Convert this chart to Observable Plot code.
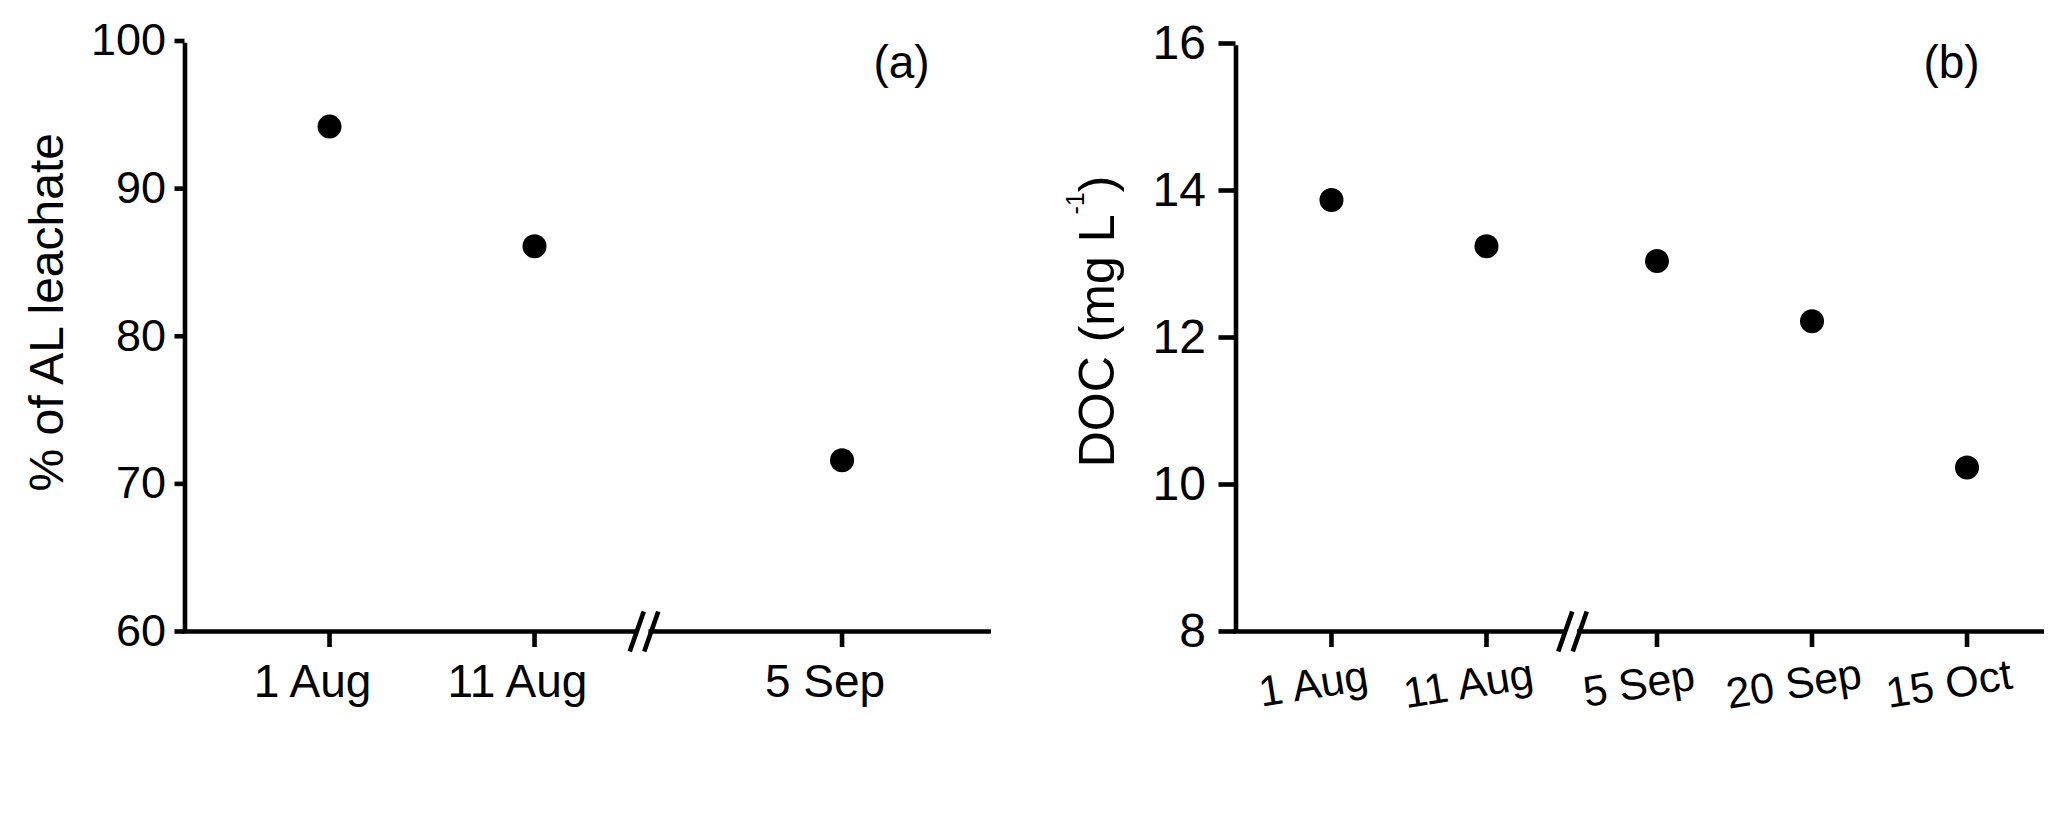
<!DOCTYPE html>
<html>
<head>
<meta charset="utf-8">
<script src="https://cdn.jsdelivr.net/npm/d3@7"></script>
<script src="https://cdn.jsdelivr.net/npm/@observablehq/plot@0.6"></script>
<style>
  html, body { margin: 0; padding: 0; background: #ffffff; }
  #wrap { display: flex; width: 2067px; height: 813px; }
  #wrap svg { display: block; overflow: visible; }
</style>
</head>
<body>
<div id="wrap"></div>
<script>
// ---------- Panel (a): % of AL leachate ----------
const datesA = ["1 Aug", "11 Aug", "5 Sep"];
const slotsA = [1, 2, 3.5];            // ordinal slot on the broken x axis
const pctAL = [94.2, 86.1, 71.6];
const yTicksA = [60, 70, 80, 90, 100];
const xDomainA = [0.295, 4.229];
const yDomainA = [60, 100];
const breakA = 2.534;

// ---------- Panel (b): DOC ----------
const datesB = ["1 Aug", "11 Aug", "5 Sep", "20 Sep", "15 Oct"];
const slotsB = [1, 2, 3.1, 4.1, 5.1];
const docB = [13.87, 13.24, 13.04, 12.22, 10.23];
const yTicksB = [8, 10, 12, 14, 16];
const xDomainB = [0.384, 5.6];
const yDomainB = [8, 16];
const breakB = 2.555;

const FONT = '"Liberation Sans", Arial, Helvetica, sans-serif';
const LW = 4.6;

function panel(cfg) {
  const {width, height, ml, mr, mt, mb, xDomain, yDomain, slots, dates, values,
         yTicks, brk, letter, letterDx, letterDy, yTitle, titleDy, titleSize,
         yTickSize, yTickPad, yTickFont, xFont, xRotate, xDx, xDy, xLineAnchor, titleId} = cfg;
  const kx = (xDomain[1] - xDomain[0]) / (width - ml - mr);   // data units per px
  const ky = (yDomain[1] - yDomain[0]) / (height - mt - mb);
  const y0 = yDomain[0];
  const halfSep = 7.25 * kx;
  const slashes = [-1, 1].map(s => ({
    x1: brk + s * halfSep - 7 * kx, y1: y0 - 20 * ky,
    x2: brk + s * halfSep + 7 * kx, y2: y0 + 20 * ky
  }));
  const segs = [
    {x1: xDomain[0], x2: brk - halfSep},
    {x1: brk + halfSep, x2: xDomain[1]}
  ];
  const rows = dates.map((d, i) => ({date: d, slot: slots[i], value: values[i]}));

  return Plot.plot({
    width, height,
    marginLeft: ml, marginRight: mr, marginTop: mt, marginBottom: mb,
    x: {type: "linear", domain: xDomain},
    y: {type: "linear", domain: yDomain},
    style: {fontFamily: FONT, color: "black", background: "white", overflow: "visible"},
    marks: [
      // axis lines (x axis broken)
      Plot.ruleY(segs, {x1: "x1", x2: "x2", y: y0, stroke: "black", strokeWidth: LW, insetLeft: -2.3}),
      Plot.ruleX([xDomain[0]], {x: d => d, y1: y0, y2: yDomain[1], stroke: "black", strokeWidth: LW, insetBottom: -2.3}),
      Plot.link(slashes, {x1: "x1", y1: "y1", x2: "x2", y2: "y2", stroke: "black", strokeWidth: LW}),
      Plot.axisY({ticks: yTicks, tickSize: yTickSize, tickPadding: yTickPad, fontSize: yTickFont,
                  strokeWidth: LW, label: null, tickFormat: d => String(d), fill: "black", stroke: "black"}),
      Plot.axisX({ticks: slots, tickSize: 16, tickFormat: () => "", strokeWidth: LW, label: null, stroke: "black"}),
      Plot.text(rows, {x: "slot", y: y0, text: "date", fontSize: xFont, rotate: xRotate,
                       textAnchor: "middle", lineAnchor: xLineAnchor, dx: xDx, dy: xDy, fill: "black"}),
      Plot.dot(rows, {x: "slot", y: "value", r: 12, fill: "black", stroke: "none"}),
      Plot.text([letter], {text: d => d, frameAnchor: "top-right", textAnchor: "middle", lineAnchor: "bottom",
                           dx: letterDx, dy: letterDy, fontSize: 46, fill: "black"}),
      Plot.text([yTitle], {text: d => d, frameAnchor: "left", rotate: -90, textAnchor: "middle",
                           lineAnchor: "bottom", dx: -122.5, dy: titleDy, fontSize: titleSize,
                           fill: "black", ariaLabel: titleId})
    ]
  });
}

const svgA = panel({
  width: 1030, height: 813, ml: 184.5, mr: 39, mt: 40.5, mb: 182,
  xDomain: xDomainA, yDomain: yDomainA, slots: slotsA, dates: datesA, values: pctAL,
  yTicks: yTicksA, brk: breakA, letter: "(a)", letterDx: -90, letterDy: 37,
  yTitle: "% of AL leachate", titleDy: -24, titleSize: 48,
  yTickSize: 10, yTickPad: 9, yTickFont: 45,
  xFont: 46, xRotate: 0, xDx: -17, xDy: 33, xLineAnchor: "top", titleId: "ytitle-a"
});

const svgB = panel({
  width: 1037, height: 813, ml: 205.5, mr: 23, mt: 43, mb: 182,
  xDomain: xDomainB, yDomain: yDomainB, slots: slotsB, dates: datesB, values: docB,
  yTicks: yTicksB, brk: breakB, letter: "(b)", letterDx: -93, letterDy: 34.5,
  yTitle: "DOC (mg L", titleDy: -16, titleSize: 50,
  yTickSize: 17, yTickPad: 13, yTickFont: 48,
  xFont: 43, xRotate: -9, xDx: -18, xDy: 53, xLineAnchor: "middle", titleId: "ytitle-b"
});

// superscript for the unit of panel (b)
let tb = d3.select(svgB).select('text[aria-label="ytitle-b"]');
if (tb.empty()) tb = d3.select(svgB).selectAll("text").filter(function () {
  return this.textContent === "DOC (mg L";
});
tb.text("DOC (mg L");
tb.append("tspan").attr("font-size", 25).attr("dy", -30).text("-1");
tb.append("tspan").attr("dy", 30).text(")");

document.getElementById("wrap").append(svgA, svgB);
</script>
</body>
</html>
